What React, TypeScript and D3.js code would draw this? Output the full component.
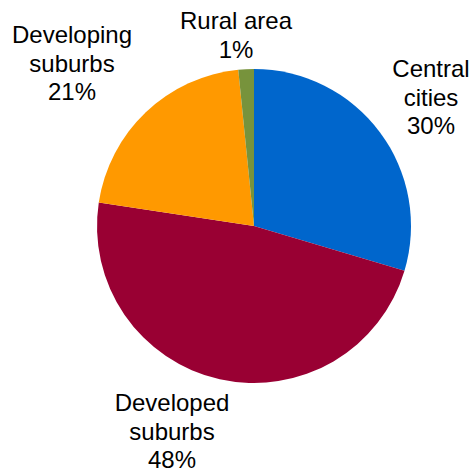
import React from "react";
import * as d3 from "d3";

const categories = ["Central cities", "Developed suburbs", "Developing suburbs", "Rural area"];
const values = [29.6, 47.8, 21.0, 1.6];
const labelLines = [["Central", "cities", "30%"], ["Developed", "suburbs", "48%"], ["Developing", "suburbs", "21%"], ["Rural area", "1%"]];
const colors = ["#0066CC", "#990033", "#FF9900", "#77933C"];

const W = 473, H = 472;
const cx = 254, cy = 226, R = 157;
// label anchor: center x, first baseline y
const labelPos = [[431, 77], [172, 411], [72, 43], [236, 29]];
const lineH = 28.5;

export default function App() {
  const pie = d3.pie<number>().sort(null).value((d) => d)(values);
  const arc = d3.arc<d3.PieArcDatum<number>>().innerRadius(0).outerRadius(R);
  return (
    <svg width={W} height={H} style={{ position: "absolute", left: 0, top: 0, background: "#fff" }}>
      <g transform={`translate(${cx},${cy})`}>
        {pie.map((p, i) => (
          <path key={categories[i]} d={arc(p) || ""} fill={colors[i]} />
        ))}
      </g>
      {labelLines.map((lines, i) => (
        <text key={i} textAnchor="middle" fontFamily="Liberation Sans, Arial, sans-serif" fontSize={24} fill="#000">
          {lines.map((l, j) => (
            <tspan key={j} x={labelPos[i][0]} y={labelPos[i][1] + j * lineH}>{l}</tspan>
          ))}
        </text>
      ))}
    </svg>
  );
}
